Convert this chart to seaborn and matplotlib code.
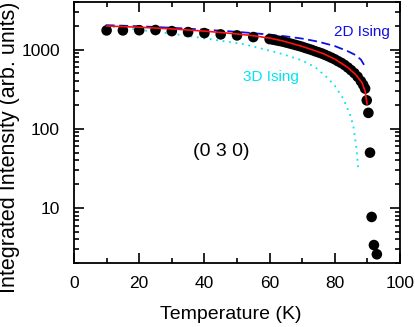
import numpy as np
import pandas as pd
import matplotlib
matplotlib.use("Agg")
import matplotlib.pyplot as plt
import matplotlib.ticker as mticker
import seaborn as sns

# ---- data ----
T_data = [10, 15, 20, 25, 30, 35, 40, 45, 50, 55,
          60, 61, 62, 63, 64, 65, 66, 67, 68, 69,
          70, 71, 72, 73, 74, 75, 76, 77, 78, 79,
          80, 81, 82, 83, 84, 85, 86, 87, 88, 88.7,
          89.3, 89.8, 90.3, 90.8, 91.3, 92.0, 92.9]
I_data = [1750, 1750, 1760, 1770, 1714, 1667, 1619, 1559, 1514, 1442,
          1360, 1340, 1315, 1290, 1265, 1235, 1205, 1175, 1145, 1115,
          1085, 1050, 1020, 990, 955, 925, 895, 860, 825, 790,
          755, 715, 680, 640, 595, 550, 505, 455, 400, 360,
          322, 229, 159, 50, 7.7, 3.4, 2.6]

T_fit = [10, 20, 30, 40, 50, 55, 60, 64, 70, 76.5, 80, 84, 86.5, 88.3, 89.3, 89.9]
I_fit = [1990, 1920, 1830, 1715, 1580, 1500, 1400, 1290, 1100, 890, 760, 595, 480, 385, 300, 205]

T_2d = [9.7, 20, 30, 40, 50, 60, 65, 70, 75, 80, 84, 86, 88, 89.3]
I_2d = [2040, 1975, 1890, 1790, 1680, 1550, 1470, 1380, 1260, 1110, 955, 870, 750, 610]

T_3d = [10, 15, 20, 26, 32, 38, 45, 52, 58, 64, 70, 74, 77.5, 80, 82.6, 84.7, 85.7, 86.7, 87.2]
I_3d = [1990, 1890, 1780, 1665, 1550, 1430, 1295, 1175, 1020, 880, 730, 600, 450, 350, 240, 150, 108, 55, 31]

x_ticks = [0, 20, 40, 60, 80, 100]
y_ticks = [10, 100, 1000]
y_tick_labels = ["10", "100", "1000"]

# ---- style ----
sns.set_theme(style="ticks")
plt.rcParams["font.family"] = ["Liberation Sans", "DejaVu Sans"]
plt.rcParams["text.color"] = "black"
plt.rcParams["axes.labelcolor"] = "black"
plt.rcParams["xtick.color"] = "black"
plt.rcParams["ytick.color"] = "black"

fig = plt.figure(figsize=(4.15, 3.27), dpi=100)
ax = fig.add_axes([74/415, 1-263.3/327, (400-74)/415, (263.3-2)/327])

df_data = pd.DataFrame({"T": T_data, "I": I_data})
df_fit = pd.DataFrame({"T": T_fit, "I": I_fit})
df_2d = pd.DataFrame({"T": T_2d, "I": I_2d})
df_3d = pd.DataFrame({"T": T_3d, "I": I_3d})

sns.lineplot(data=df_3d, x="T", y="I", ax=ax, color="#00E5EE", lw=1.3,
             linestyle=(0, (1, 2.6)), sort=False, estimator=None, zorder=1)
sns.lineplot(data=df_2d, x="T", y="I", ax=ax, color="#1010E0", lw=1.3,
             linestyle=(0, (5, 2.5)), sort=False, estimator=None, zorder=1)
sns.scatterplot(data=df_data, x="T", y="I", ax=ax, color="black", s=58,
                edgecolor="none", marker="o", zorder=2)
sns.lineplot(data=df_fit, x="T", y="I", ax=ax, color="#FF1010", lw=1.2,
             sort=False, estimator=None, zorder=3)

ax.set_yscale("log")
ax.set_xlim(0, 100)
ax.set_ylim(2, 4000)

ax.xaxis.set_major_locator(mticker.FixedLocator(x_ticks))
ax.xaxis.set_minor_locator(mticker.MultipleLocator(10))
ax.yaxis.set_major_locator(mticker.FixedLocator(y_ticks))
ax.yaxis.set_major_formatter(mticker.FixedFormatter(y_tick_labels))
ax.yaxis.set_minor_locator(mticker.LogLocator(base=10, subs=range(2, 10)))
ax.yaxis.set_minor_formatter(mticker.NullFormatter())

ax.tick_params(which="both", direction="in", top=True, right=True,
               width=1.2, colors="black", labelcolor="black", labelsize=12.5)
ax.tick_params(which="major", length=7)
ax.tick_params(axis="y", which="major", pad=10)
ax.tick_params(axis="x", which="major", pad=9)
ax.tick_params(which="minor", length=3.8)
for sp in ax.spines.values():
    sp.set_linewidth(1.3)
    sp.set_color("black")

ax.set_xlabel("Temperature (K)", fontsize=14, color="black")
ax.xaxis.set_label_coords(0.482, -0.165)
ax.set_ylabel("Integrated Intensity (arb. units)", fontsize=15.5, color="black")
ax.yaxis.set_label_coords(-0.165, 0.445)

ax.text(79.8, 1650, "2D Ising", color="#1010E0", fontsize=11, va="center", ha="left")
ax.text(51.9, 451, "3D Ising", color="#00E5EE", fontsize=11, va="center", ha="left")
ax.text(45.1, 51, "(0 3 0)", color="black", fontsize=14, va="center", ha="center")

fig.savefig("out.png", dpi=100)
